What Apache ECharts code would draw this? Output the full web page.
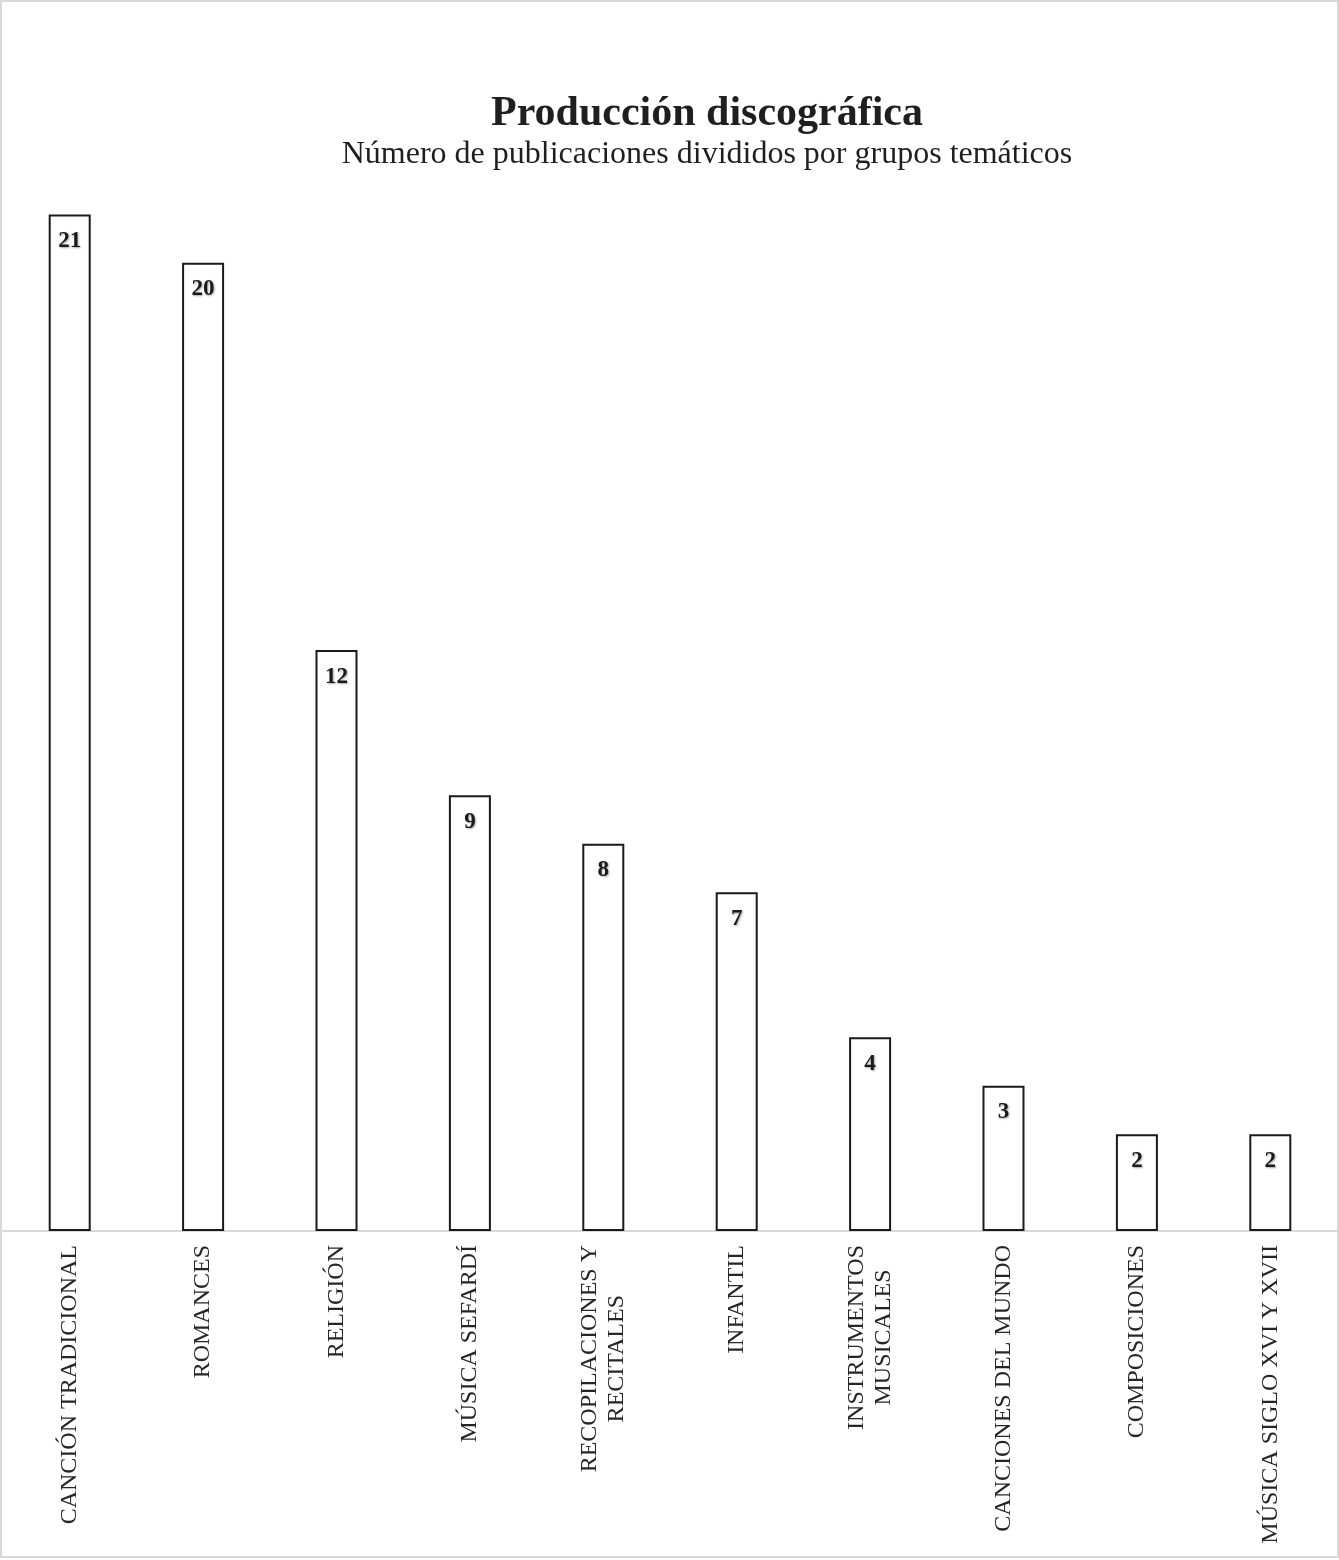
<!DOCTYPE html>
<html>
<head>
<meta charset="utf-8">
<script src="https://cdn.jsdelivr.net/npm/echarts@6/dist/echarts.min.js"></script>
<style>
  html, body { margin: 0; padding: 0; background: #fff; }
  #frame { position: absolute; left: 0; top: 0; width: 1335px; height: 1554px; border: 2px solid #d9d9d9; }
  #chart { width: 1335px; height: 1554px; }
</style>
</head>
<body>
<div id="frame"><div id="chart"></div></div>
<script>
// Thematic groups and number of publications in each
const categories = [
  'CANCIÓN TRADICIONAL',
  'ROMANCES',
  'RELIGIÓN',
  'MÚSICA SEFARDÍ',
  'RECOPILACIONES Y\nRECITALES',
  'INFANTIL',
  'INSTRUMENTOS\nMUSICALES',
  'CANCIONES DEL MUNDO',
  'COMPOSICIONES',
  'MÚSICA SIGLO XVI Y XVII'
];
const publications = [21, 20, 12, 9, 8, 7, 4, 3, 2, 2];

const serif = '"Liberation Serif", "Times New Roman", serif';

const chart = echarts.init(document.getElementById('chart'));
chart.setOption({
  backgroundColor: '#ffffff',
  animation: false,
  title: [{
    text: 'Producción discográfica',
    left: 700,
    top: 86,
    textAlign: 'center',
    textStyle: { fontFamily: serif, fontSize: 42, fontWeight: 'bold', color: '#1f1f1f' }
  }, {
    text: 'Número de publicaciones divididos por grupos temáticos',
    left: 700,
    top: 132,
    textAlign: 'center',
    textStyle: { fontFamily: serif, fontSize: 32, fontWeight: 'normal', color: '#1f1f1f' }
  }],
  grid: { left: 1, right: 0, top: 164, bottom: 325, containLabel: false },
  xAxis: {
    type: 'category',
    data: categories,
    axisLine: { show: true, lineStyle: { color: '#d9d9d9', width: 2 } },
    axisTick: { show: false },
    axisLabel: {
      rotate: 90,
      interval: 0,
      margin: 14,
      // each line of a wrapped category is centred within its label block
      formatter: v => v.split('\n').map(l => '{c|' + l + '}').join('\n'),
      rich: {
        c: { align: 'center', fontFamily: serif, fontSize: 24, lineHeight: 27, color: '#262626' }
      },
      fontFamily: serif,
      fontSize: 24,
      lineHeight: 27,
      color: '#262626'
    }
  },
  yAxis: {
    type: 'value',
    min: 0,
    max: 22,
    show: false,
    splitLine: { show: false }
  },
  series: [{
    type: 'bar',
    data: publications,
    barWidth: 42,
    itemStyle: { color: '#ffffff', borderColor: '#1a1a1a', borderWidth: 2 },
    label: {
      show: true,
      position: 'insideTop',
      distance: 15,
      fontFamily: serif,
      fontSize: 23,
      fontWeight: 'bold',
      color: '#1a1a1a',
      textShadowColor: 'rgba(0,0,0,0.35)',
      textShadowBlur: 2,
      textShadowOffsetX: 1,
      textShadowOffsetY: 1
    }
  }]
});
</script>
</body>
</html>
